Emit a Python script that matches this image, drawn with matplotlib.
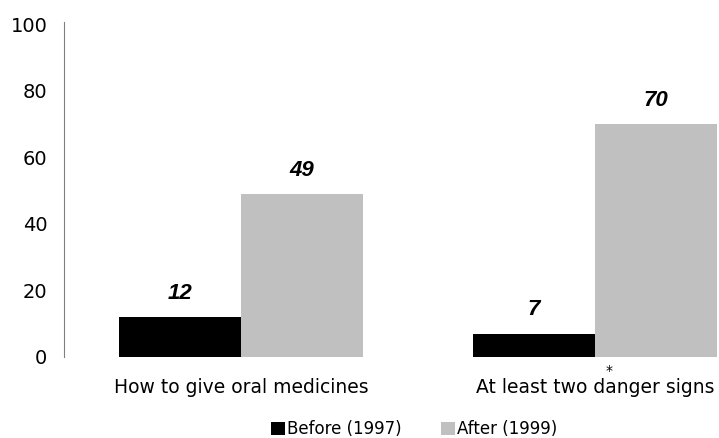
import numpy as np
import matplotlib.pyplot as plt

categories = ['How to give oral medicines', 'At least two danger signs']
before = [12, 7]
after = [49, 70]
series_names = ['Before (1997)', 'After (1999)']
y_ticks = [0, 20, 40, 60, 80, 100]

plt.rcParams['font.family'] = 'DejaVu Sans'

fig = plt.figure(figsize=(7.19, 4.38), dpi=100)
ax = fig.add_axes([64 / 719, 1 - 357 / 438, 655 / 719, 333 / 438])

x = np.arange(len(categories))
w = 0.346
b1 = ax.bar(x - w / 2, before, w, color='black', label=series_names[0])
b2 = ax.bar(x + w / 2, after, w, color='#c0c0c0', label=series_names[1])

for bars, vals in ((b1, before), (b2, after)):
    for rect, v in zip(bars, vals):
        ax.text(rect.get_x() + rect.get_width() / 2, v + 4, str(v),
                ha='center', va='bottom', fontsize=16, fontweight='bold',
                fontstyle='italic', family='Liberation Sans')

ax.set_xlim(-0.5, -0.5 + 655 / 354)
ax.set_ylim(0, 100)
ax.set_yticks(y_ticks)
ax.tick_params(axis='y', length=0, labelsize=14, pad=12)
ax.set_xticks(x)
ax.set_xticklabels(categories)
ax.tick_params(axis='x', length=0, labelsize=13.5, pad=15)

for s in ('top', 'right', 'bottom'):
    ax.spines[s].set_visible(False)
ax.spines['left'].set_color('#808080')
ax.spines['left'].set_bounds(0, 100.5)

# significance marker over the second category label
ax.text(x[1] + 0.04, -4.2, '*', ha='center', va='center', fontsize=10)

fig.legend(handles=[b1, b2], labels=series_names, loc='center',
           bbox_to_anchor=(414 / 719, 1 - 429 / 438), ncol=2, frameon=False,
           fontsize=12, handlelength=0.85, handleheight=0.85,
           handletextpad=0.1, columnspacing=2.4, borderpad=0)

fig.savefig('out.png', dpi=100)
